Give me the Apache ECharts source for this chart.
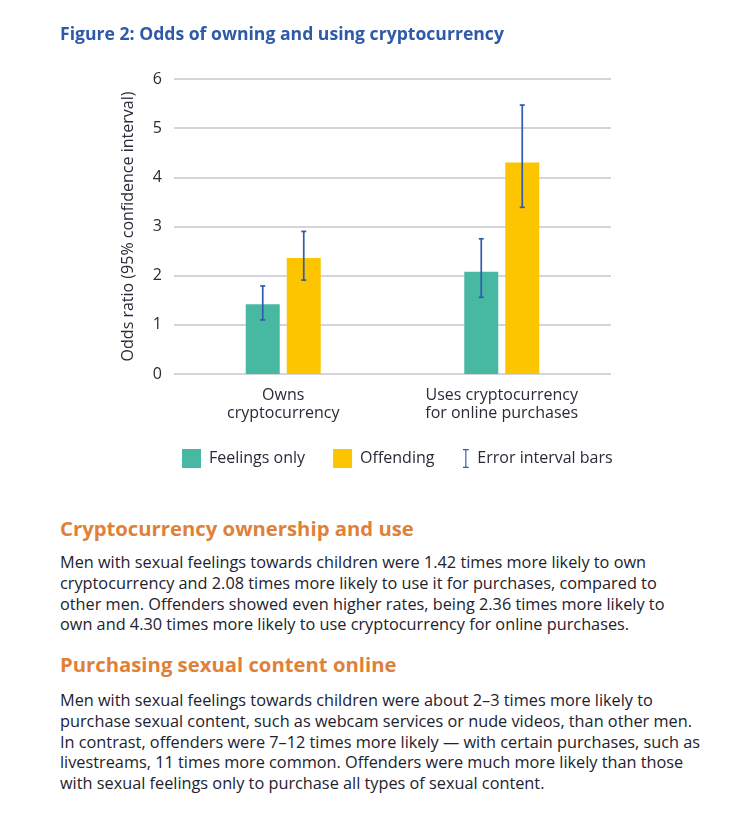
<!DOCTYPE html>
<html>
<head>
<meta charset="utf-8">
<script src="https://cdn.jsdelivr.net/npm/echarts@6/dist/echarts.min.js"></script>
<style>
  html, body { margin:0; padding:0; background:#fff; }
  body { width:745px; height:817px; position:relative; overflow:hidden; font-family:"Open Sans", sans-serif; }
  #chart { position:absolute; left:0; top:0; width:745px; height:490px; }
  .h { position:absolute; left:60px; font-weight:700; font-size:20.3px; color:#df8139; line-height:26px; white-space:nowrap; }
  .p { position:absolute; left:60px; font-size:16.3px; color:#22222e; line-height:20.8px; white-space:nowrap; }
</style>
</head>
<body>
<div id="chart"></div>
<div class="h" style="top:515px">Cryptocurrency ownership and use</div>
<div class="p" style="top:552px">Men with sexual feelings towards children were 1.42 times more likely to own<br>cryptocurrency and 2.08 times more likely to use it for purchases, compared to<br>other men. Offenders showed even higher rates, being 2.36 times more likely to<br>own and 4.30 times more likely to use cryptocurrency for online purchases.</div>
<div class="h" style="top:651px">Purchasing sexual content online</div>
<div class="p" style="top:690px">Men with sexual feelings towards children were about 2–3 times more likely to<br>purchase sexual content, such as webcam services or nude videos, than other men.<br>In contrast, offenders were 7–12 times more likely — with certain purchases, such as<br>livestreams, 11 times more common. Offenders were much more likely than those<br>with sexual feelings only to purchase all types of sexual content.</div>
<script>
const categories = ['Owns\ncryptocurrency', 'Uses cryptocurrency\nfor online purchases'];
const feelingsOnly = [1.42, 2.08];
const offending = [2.36, 4.30];
const feelingsLow = [1.10, 1.56];
const feelingsHigh = [1.79, 2.75];
const offendingLow = [1.91, 3.39];
const offendingHigh = [2.90, 5.47];
const yMin = 0, yMax = 6, yStep = 1;

const BAR_W = 34, BAR_GAP = 7;
const errData = [];
categories.forEach((c, i) => {
  errData.push([i, feelingsLow[i], feelingsHigh[i], 0]);
  errData.push([i, offendingLow[i], offendingHigh[i], 1]);
});
const ERR_COLOR = '#2f5cae';
const TXT = '#2a2a38';

const chart = echarts.init(document.getElementById('chart'), null, {renderer:'canvas'});
chart.setOption({
  animation: false,
  textStyle: { fontFamily: 'Open Sans' },
  title: {
    text: 'Figure 2: Odds of owning and using cryptocurrency',
    left: 60, top: 26, padding: 0,
    textStyle: { fontFamily:'Open Sans', fontWeight: 700, fontSize: 17.6, color: '#2f5aa8' }
  },
  grid: { left: 174, right: 134, top: 79, bottom: 490 - 374 },
  legend: [
    {
      data: ['Feelings only', 'Offending'],
      left: 182, top: 449, padding: 0,
      icon: 'rect', itemWidth: 19, itemHeight: 19, itemGap: 28,
      textStyle: { fontFamily:'Open Sans', fontSize: 16, color: TXT, padding: [0,0,0,3] }
    },
    {
      data: [{ name: 'Error interval bars', icon: 'path://M0,0H6V1.2H3.6V18.8H6V20H0V18.8H2.4V1.2H0Z' }],
      left: 463, top: 449, padding: 0,
      itemWidth: 7, itemHeight: 19,
      textStyle: { fontFamily:'Open Sans', fontSize: 16, color: TXT, padding: [0,0,0,3] }
    }
  ],
  xAxis: {
    type: 'category',
    data: categories,
    axisLine: { show: false },
    axisTick: { show: false },
    axisLabel: { fontFamily:'Open Sans', fontSize: 16, color: TXT, margin: 13, lineHeight: 17.5 }
  },
  yAxis: {
    type: 'value',
    min: yMin, max: yMax, interval: yStep,
    name: 'Odds ratio (95% confidence interval)',
    nameLocation: 'middle', nameGap: 38,
    nameTextStyle: { fontFamily:'Open Sans', fontSize: 16, color: TXT },
    axisLine: { show: false },
    axisTick: { show: false },
    axisLabel: { fontFamily:'Open Sans', fontSize: 16, color: TXT, margin: 12 },
    splitLine: { lineStyle: { color: '#c6c6d0', width: 1.6 } }
  },
  series: [
    {
      name: 'Feelings only', type: 'bar', data: feelingsOnly,
      barWidth: BAR_W, barGap: (BAR_GAP / BAR_W * 100) + '%',
      itemStyle: { color: '#47b8a1' }
    },
    {
      name: 'Offending', type: 'bar', data: offending,
      barWidth: BAR_W,
      itemStyle: { color: '#fdc400' }
    },
    {
      name: 'Error interval bars', type: 'custom', z: 10,
      itemStyle: { color: ERR_COLOR },
      data: errData,
      encode: { x: 0, y: [1, 2] },
      renderItem: function (params, api) {
        const cat = api.value(0), lo = api.value(1), hi = api.value(2), g = api.value(3);
        const top = api.coord([cat, hi]);
        const bot = api.coord([cat, lo]);
        const off = (g === 0 ? -1 : 1) * (BAR_W + BAR_GAP) / 2;
        const x = top[0] + off;
        const cap = 2.5;
        const st = { stroke: ERR_COLOR, lineWidth: 1.7 };
        return {
          type: 'group',
          children: [
            { type: 'line', shape: { x1: x, y1: top[1], x2: x, y2: bot[1] }, style: st },
            { type: 'line', shape: { x1: x - cap, y1: top[1], x2: x + cap, y2: top[1] }, style: st },
            { type: 'line', shape: { x1: x - cap, y1: bot[1], x2: x + cap, y2: bot[1] }, style: st }
          ]
        };
      }
    }
  ]
});
</script>
</body>
</html>
